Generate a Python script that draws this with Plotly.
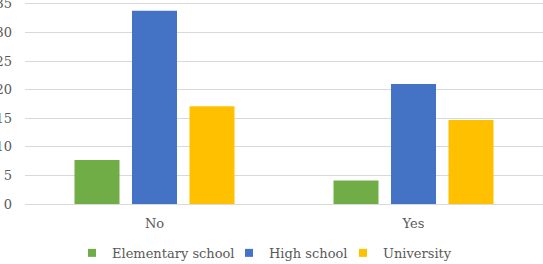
import plotly.graph_objects as go

categories = ["No", "Yes"]
series_names = ["Elementary school", "High school", "University"]
elementary = [7.7, 4.1]
high_school = [33.8, 21.0]
university = [17.1, 14.7]
colors = ["#70AD47", "#4472C4", "#FFC000"]
y_ticks = [0, 5, 10, 15, 20, 25, 30, 35]
legend_x = [0.0907, 0.3938, 0.6139]

font = dict(family="DejaVu Serif", size=13, color="#595959")

fig = go.Figure()
for i, (name, vals, col) in enumerate(zip(series_names, [elementary, high_school, university], colors)):
    lg = "legend" if i == 0 else f"legend{i+1}"
    fig.add_trace(go.Bar(x=categories, y=vals, name=name, showlegend=False,
                         marker=dict(color=col, line=dict(width=0))))
    fig.add_trace(go.Scatter(x=[None], y=[None], mode="markers", name=name, legend=lg,
                             marker=dict(symbol="square", size=8, color=col)))

legend_common = dict(orientation="h", xanchor="left", y=0.042, yref="container", yanchor="middle",
                     font=font, itemwidth=30, bgcolor="rgba(0,0,0,0)")

fig.update_layout(
    width=543, height=264,
    margin=dict(l=25, r=0, t=1, b=60, autoexpand=False),
    paper_bgcolor="white", plot_bgcolor="white",
    barmode="group", bargap=0.334, bargroupgap=0.217,
    font=font,
    showlegend=True,
    legend=dict(x=legend_x[0], **legend_common),
    legend2=dict(x=legend_x[1], **legend_common),
    legend3=dict(x=legend_x[2], **legend_common),
    xaxis=dict(showgrid=False, showline=False, ticks="", tickfont=font, ticklabelstandoff=10),
    yaxis=dict(range=[0, 35.5], tickvals=y_ticks, showgrid=True, gridcolor="#d9d9d9", gridwidth=1,
               zeroline=True, zerolinecolor="#d9d9d9", zerolinewidth=1,
               showline=False, ticks="", tickfont=font, ticklabelstandoff=12,
               ticklabeloverflow="allow"),
)
fig.write_html("out.html")
